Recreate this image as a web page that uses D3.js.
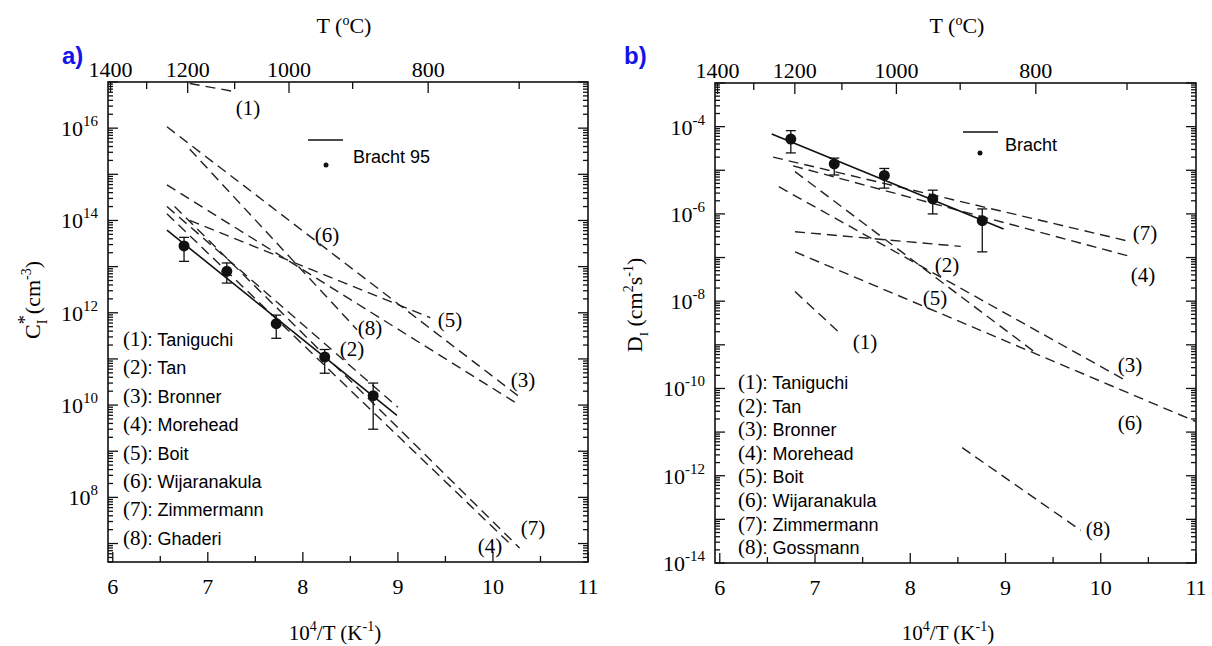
<!DOCTYPE html>
<html><head><meta charset="utf-8">
<script src="https://cdn.jsdelivr.net/npm/d3@7"></script>
<style>body{margin:0;background:#fff;} svg{display:block;}</style>
</head><body>
<svg id="chart" width="1212" height="646"></svg>
<script>
// ---------- DATA ----------
// shared axis ticks
const xTickValues = [6, 7, 8, 9, 10, 11];
const xMinorValues = [6.5, 7.5, 8.5, 9.5, 10.5];
const topTempLabels = [1400, 1200, 1000, 800];
const topTempMinor = [1300, 1100, 900, 700];

// Panel a) C_I* (cm^-3)
const aYDecadeLabels = [16, 14, 12, 10, 8];
const aSeriesIds   = ["(1)", "(2)", "(3)", "(4)", "(5)", "(6)", "(7)", "(8)"];
const aSeriesNames = ["Taniguchi", "Tan", "Bronner", "Morehead", "Boit", "Wijaranakula", "Zimmermann", "Ghaderi"];
const aLineX1 = [6.81, 6.57, 6.57, 6.57, 6.81, 6.57, 6.65, 6.81];
const aLineY1 = [9.3e16, 2.0e14, 5.9e14, 1.4e14, 1.0e14, 1.07e16, 2.0e14, 3.5e15];
const aLineX2 = [7.28, 9.0, 10.28, 10.20, 9.34, 10.28, 10.28, 8.57];
const aLineY2 = [6.2e16, 9.0e9, 1.0e10, 9.0e6, 7.8e11, 1.5e10, 8.0e6, 4.3e11];
const aBrachtLineX = [6.57, 8.99];
const aBrachtLineY = [6.2e13, 6.0e9];
const aBrachtX    = [6.75, 7.20, 7.72, 8.23, 8.74];
const aBrachtY    = [2.8e13, 7.9e12, 5.8e11, 1.1e11, 1.6e10];
const aBrachtHigh = [4.3e13, 1.2e13, 8.9e11, 1.6e11, 3.0e10];
const aBrachtLow  = [1.3e13, 4.4e12, 2.8e11, 4.9e10, 3.0e9];

// Panel b) D_I (cm^2 s^-1)
const bYDecadeLabels = [-4, -6, -8, -10, -12, -14];
const bSeriesIds   = ["(1)", "(2)", "(3)", "(4)", "(5)", "(6)", "(7)", "(8)"];
const bSeriesNames = ["Taniguchi", "Tan", "Bronner", " Morehead", " Boit", "Wijaranakula", "Zimmermann", "Gossmann"];
const bLineX1 = [6.79, 6.79, 6.62, 6.77, 6.79, 6.79, 6.56, 8.545];
const bLineY1 = [1.66e-8, 9.3e-6, 4.2e-6, 1.26e-5, 3.9e-7, 1.35e-7, 2.0e-5, 4.4e-12];
const bLineX2 = [7.28, 9.32, 10.28, 10.28, 8.53, 11.0, 10.28, 9.79];
const bLineY2 = [1.7e-9, 6.5e-10, 1.45e-10, 1.1e-7, 1.8e-7, 1.74e-11, 2.4e-7, 5.6e-14];
const bBrachtLineX = [6.546, 8.98];
const bBrachtLineY = [6.8e-5, 4.5e-7];
const bBrachtX    = [6.746, 7.202, 7.728, 8.236, 8.756];
const bBrachtY    = [5.2e-5, 1.4e-5, 7.6e-6, 2.2e-6, 7.0e-7];
const bBrachtHigh = [8.1e-5, 1.9e-5, 1.1e-5, 3.5e-6, 1.3e-6];
const bBrachtLow  = [2.5e-5, 7.8e-6, 3.9e-6, 1.0e-6, 1.35e-7];

// ---------- DRAW ----------
const svg = d3.select("#chart");
const SERIF = "'Liberation Serif','DejaVu Serif',serif";
const SANS = "'Liberation Sans',Arial,sans-serif";

function drawPanel(p) {
  const g = svg.append("g");
  const x = d3.scaleLinear().domain([5.95, 11]).range([p.left, p.right]);
  const y = d3.scaleLog().domain(p.yDomain).range([p.bottom, p.top]);
  const xT = T => x(1e4 / (T + 273.15));

  // frame
  g.append("rect").attr("x", p.left).attr("y", p.top)
    .attr("width", p.right - p.left).attr("height", p.bottom - p.top)
    .attr("fill", "none").attr("stroke", "#111").attr("stroke-width", 1.6);

  const tick = (x1, y1, x2, y2, w) => g.append("line").attr("x1", x1).attr("y1", y1)
    .attr("x2", x2).attr("y2", y2).attr("stroke", "#111").attr("stroke-width", w || 1.3);

  // bottom ticks
  xTickValues.forEach(v => {
    tick(x(v), p.bottom, x(v), p.bottom - 10);
    g.append("text").attr("x", x(v)).attr("y", p.bottom + 32).attr("text-anchor", "middle")
      .attr("font-family", SERIF).attr("font-size", 22).text(v);
  });
  xMinorValues.forEach(v => tick(x(v), p.bottom, x(v), p.bottom - 6));

  // top ticks (temperature)
  topTempLabels.forEach(T => {
    tick(xT(T), p.top, xT(T), p.top + 11);
    g.append("text").attr("x", xT(T)).attr("y", p.top - 5).attr("text-anchor", "middle")
      .attr("font-family", SERIF).attr("font-size", 22).text(T);
  });
  topTempMinor.forEach(T => tick(xT(T), p.top, xT(T), p.top + 7));

  // y ticks (log)
  const [lo, hi] = p.yDomain.map(Math.log10);
  for (let d = Math.floor(lo); d <= Math.ceil(hi); d++) {
    for (let m = 1; m <= 9; m++) {
      const v = m * Math.pow(10, d);
      if (v < p.yDomain[0] * 0.999 || v > p.yDomain[1] * 1.001) continue;
      const len = m === 1 ? 10 : 5;
      tick(p.left, y(v), p.left + len, y(v));
      tick(p.right, y(v), p.right - len, y(v));
    }
  }
  p.yLabels.forEach(e => {
    const t = g.append("text").attr("x", p.left - 10).attr("y", y(Math.pow(10, e)) + 8)
      .attr("text-anchor", "end").attr("font-family", SERIF).attr("font-size", 22);
    t.append("tspan").text("10");
    t.append("tspan").attr("dy", -10).attr("font-size", 15).text(String(e).replace("-", "-"));
  });

  // series lines
  const line = d3.line().x(d => x(d[0])).y(d => y(d[1]));
  p.ids.forEach((id, i) => {
    g.append("path").attr("d", line([[p.x1[i], p.y1[i]], [p.x2[i], p.y2[i]]]))
      .attr("fill", "none").attr("stroke", "#222").attr("stroke-width", 1.4)
      .attr("stroke-dasharray", "10,6");
  });
  // Bracht fit
  g.append("path").attr("d", line(p.bLineX.map((v, i) => [v, p.bLineY[i]])))
    .attr("fill", "none").attr("stroke", "#111").attr("stroke-width", 1.6);
  // Bracht points with error bars
  p.bx.forEach((v, i) => {
    tick(x(v), y(p.bHigh[i]), x(v), y(p.bLow[i]), 1.3);
    tick(x(v) - 5, y(p.bHigh[i]), x(v) + 5, y(p.bHigh[i]), 1.3);
    tick(x(v) - 5, y(p.bLow[i]), x(v) + 5, y(p.bLow[i]), 1.3);
    g.append("circle").attr("cx", x(v)).attr("cy", y(p.by[i])).attr("r", 5.5).attr("fill", "#111");
  });

  // series labels in plot
  p.labelPos.forEach((pos, i) => {
    g.append("text").attr("x", pos[0]).attr("y", pos[1] + 7).attr("text-anchor", "middle")
      .attr("font-family", SERIF).attr("font-size", 21).text(p.ids[i]);
  });

  // Bracht legend
  tick(p.legLine[0], p.legLine[2], p.legLine[1], p.legLine[2], 1.5);
  g.append("circle").attr("cx", p.legDot[0]).attr("cy", p.legDot[1]).attr("r", 2.5).attr("fill", "#111");
  g.append("text").attr("x", p.legText[0]).attr("y", p.legText[1] + 6).attr("font-family", SANS)
    .attr("font-size", 18).text(p.legLabel);

  // reference list legend
  p.ids.forEach((id, i) => {
    const t = g.append("text").attr("x", p.listX).attr("y", p.listY0 + i * p.listDy + 7);
    t.append("tspan").attr("font-family", SERIF).attr("font-size", 21).text(id);
    t.append("tspan").attr("font-family", SANS).attr("font-size", 18).text(":" + (p.names[i].startsWith(" ") ? "" : " ") + p.names[i]);
  });

  // axis titles
  const cx = (p.left + p.right) / 2;
  const tt = g.append("text").attr("x", p.topTitleX).attr("y", 33).attr("text-anchor", "middle")
    .attr("font-family", SERIF).attr("font-size", 22);
  tt.append("tspan").text("T (");
  tt.append("tspan").attr("dy", -8).attr("font-size", 14).text("o");
  tt.append("tspan").attr("dy", 8).text("C)");

  const bt = g.append("text").attr("x", p.botTitleX).attr("y", 640).attr("text-anchor", "middle")
    .attr("font-family", SERIF).attr("font-size", 21);
  bt.append("tspan").text("10");
  bt.append("tspan").attr("dy", -9).attr("font-size", 14).text("4");
  bt.append("tspan").attr("dy", 9).text("/T (K");
  bt.append("tspan").attr("dy", -9).attr("font-size", 14).text("-1");
  bt.append("tspan").attr("dy", 9).text(")");

  const yt = g.append("text").attr("transform", `translate(${p.yTitleX},${p.yTitleY}) rotate(-90)`)
    .attr("text-anchor", "middle").attr("font-family", SERIF).attr("font-size", 22);
  p.yTitle(yt);

  // panel tag
  svg.append("text").attr("x", p.tag[0]).attr("y", p.tag[1]).attr("font-family", SANS)
    .attr("font-weight", "bold").attr("font-size", 24).attr("fill", "#1414e6").text(p.tagText);
}

drawPanel({
  left: 108, right: 588, top: 82, bottom: 562,
  yDomain: [Math.pow(10, 6.6), 1e17], yLabels: aYDecadeLabels,
  ids: aSeriesIds, names: aSeriesNames,
  x1: aLineX1, y1: aLineY1, x2: aLineX2, y2: aLineY2,
  bLineX: aBrachtLineX, bLineY: aBrachtLineY,
  bx: aBrachtX, by: aBrachtY, bHigh: aBrachtHigh, bLow: aBrachtLow,
  labelPos: [[248, 108], [352, 349], [523, 380], [490, 546], [450, 320], [327, 235], [533, 528], [370, 328]],
  legLine: [308, 343, 140], legDot: [326, 165], legText: [353, 157], legLabel: "Bracht 95",
  listX: 123, listY0: 339, listDy: 28.4,
  topTitleX: 344, botTitleX: 335, yTitleX: 40, yTitleY: 300,
  yTitle: t => {
    t.append("tspan").text("C");
    t.append("tspan").attr("dy", -9).attr("dx", 0).attr("font-size", 18).text("*");
    t.append("tspan").attr("dy", 16).attr("dx", -9).attr("font-size", 14).text("I");
    t.append("tspan").attr("dy", -7).text(" (cm");
    t.append("tspan").attr("dy", -9).attr("font-size", 14).text("-3");
    t.append("tspan").attr("dy", 9).text(")");
  },
  tag: [62, 64], tagText: "a)"
});

drawPanel({
  left: 715, right: 1196, top: 83, bottom: 563,
  yDomain: [1e-14, 1e-3], yLabels: bYDecadeLabels,
  ids: bSeriesIds, names: bSeriesNames,
  x1: bLineX1, y1: bLineY1, x2: bLineX2, y2: bLineY2,
  bLineX: bBrachtLineX, bLineY: bBrachtLineY,
  bx: bBrachtX, by: bBrachtY, bHigh: bBrachtHigh, bLow: bBrachtLow,
  labelPos: [[865, 342], [947, 265], [1130, 365], [1143, 275], [935, 298], [1130, 423], [1145, 233], [1098, 529]],
  legLine: [963, 998, 132], legDot: [980, 153], legText: [1005, 145], legLabel: "Bracht",
  listX: 738, listY0: 382, listDy: 23.6,
  topTitleX: 957, botTitleX: 948, yTitleX: 642, yTitleY: 305,
  yTitle: t => {
    t.append("tspan").text("D");
    t.append("tspan").attr("dy", 6).attr("font-size", 13).text("I");
    t.append("tspan").attr("dy", -6).text(" (cm");
    t.append("tspan").attr("dy", -9).attr("font-size", 14).text("2");
    t.append("tspan").attr("dy", 9).text("s");
    t.append("tspan").attr("dy", -9).attr("font-size", 14).text("-1");
    t.append("tspan").attr("dy", 9).text(")");
  },
  tag: [624, 64], tagText: "b)"
});
</script>
</body></html>
